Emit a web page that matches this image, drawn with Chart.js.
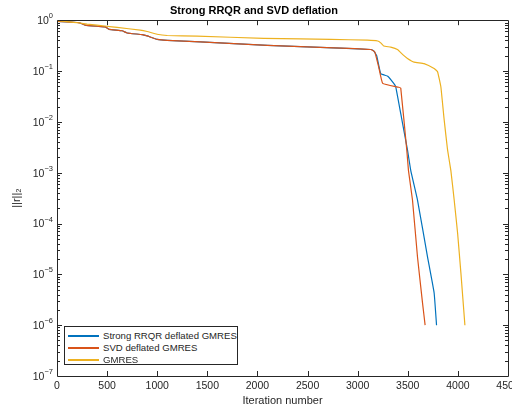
<!DOCTYPE html>
<html>
<head>
<meta charset="utf-8">
<script src="https://cdn.jsdelivr.net/npm/chart.js@4"></script>
<style>
  body { margin: 0; background: #fff; }
  #wrap { position: relative; width: 512px; height: 412px; }
  #legend {
    position: absolute; left: 64px; top: 326px; width: 172px; height: 37px;
    border: 1px solid #262626; background: #fff;
    font: 9.6px 'Liberation Sans', Arial, sans-serif; color: #262626;
  }
  #legend .row { position: absolute; left: 0; width: 100%; height: 12px; line-height: 12px; white-space: nowrap; }
  #legend .swatch { position: absolute; left: 3px; top: 5px; width: 31px; height: 1.5px; }
  #legend .label { position: absolute; left: 38px; top: 0; }
</style>
</head>
<body>
<div id="wrap">
  <canvas id="chart" width="512" height="412"></canvas>
  <div id="legend"></div>
</div>
<script>
'use strict';

var chartTitle = 'Strong RRQR and SVD deflation';
var xTitle = 'Iteration number';
var seriesNames = ['Strong RRQR deflated GMRES', 'SVD deflated GMRES', 'GMRES'];
var seriesColors = ['#0072BD', '#D95319', '#EDB120'];

var iterRRQR = [0, 200, 230, 280, 400, 480, 520, 650, 700, 850, 900, 1000, 1100, 1430, 2100, 2760, 3130,
  3160, 3190, 3230, 3300, 3360, 3380, 3430, 3497, 3530, 3597, 3697, 3763, 3787];
var resRRQR = [0.95, 0.9, 0.88, 0.8, 0.76, 0.74, 0.66, 0.62, 0.56, 0.52, 0.49, 0.42, 0.4, 0.375, 0.32, 0.286, 0.265,
  0.25, 0.2, 0.089, 0.079, 0.057, 0.049, 0.0145, 0.0028, 0.0011, 2.9e-4, 2.2e-5, 4.3e-6, 1e-6];

var iterSVD = [0, 200, 230, 280, 400, 480, 520, 650, 700, 850, 900, 1000, 1100, 1430, 2100, 2760, 3130,
  3170, 3210, 3250, 3410, 3430, 3490, 3507, 3547, 3597, 3647, 3673];
var resSVD = [0.95, 0.9, 0.88, 0.8, 0.76, 0.74, 0.66, 0.62, 0.56, 0.52, 0.49, 0.42, 0.4, 0.375, 0.32, 0.286, 0.265,
  0.24, 0.12, 0.057, 0.048, 0.046, 0.0028, 0.0011, 2.9e-4, 2.2e-5, 2.75e-6, 1e-6];

var iterGMRES = [0, 100, 230, 300, 497, 600, 830, 900, 997, 1100, 1397, 2063, 2430, 2730, 3097, 3200, 3230, 3260,
  3330, 3397, 3450, 3497, 3563, 3663, 3763, 3797, 3830, 3863, 3897, 3930, 3963, 3997, 4030, 4070];
var resGMRES = [0.97, 0.94, 0.88, 0.84, 0.76, 0.72, 0.64, 0.6, 0.53, 0.5, 0.485, 0.44, 0.43, 0.42, 0.405, 0.39, 0.358, 0.31,
  0.295, 0.265, 0.21, 0.177, 0.15, 0.14, 0.112, 0.097, 0.049, 0.011, 0.0028, 0.0011, 2.9e-4, 6.5e-5, 1.07e-5, 1e-6];

var xMin = 0, xMax = 4500, xStep = 500;
var yExponents = [-7, -6, -5, -4, -3, -2, -1, 0];

var axisColor = '#262626';
var fontFamily = "'Liberation Sans', Arial, sans-serif";

function toPoints(xs, ys) {
  var pts = [];
  for (var i = 0; i < xs.length; i++) {
    pts.push({ x: xs[i], y: ys[i] });
  }
  return pts;
}

var allX = [iterRRQR, iterSVD, iterGMRES];
var allY = [resRRQR, resSVD, resGMRES];
var datasets = [];
for (var s = 0; s < seriesNames.length; s++) {
  datasets.push({
    label: seriesNames[s],
    data: toPoints(allX[s], allY[s]),
    borderColor: seriesColors[s],
    backgroundColor: seriesColors[s],
    borderWidth: 1.2,
    pointRadius: 0,
    tension: 0.1,
    fill: false,
    order: seriesNames.length - s // later series drawn on top, like matlab
  });
}

// matlab-ish box, inward ticks and 10^n labels
var matlabAxes = {
  id: 'matlabAxes',
  afterDraw: function (chart) {
    var ctx = chart.ctx;
    var area = chart.chartArea;
    var xs = chart.scales.x;
    var ys = chart.scales.y;
    ctx.save();
    ctx.strokeStyle = axisColor;
    ctx.lineWidth = 1;
    ctx.beginPath();
    ctx.rect(Math.round(area.left) + 0.5, Math.round(area.top) + 0.5,
      Math.round(area.right - area.left), Math.round(area.bottom - area.top));
    ctx.stroke();

    ctx.beginPath();
    for (var v = xMin + xStep; v < xMax; v += xStep) {
      var px = Math.round(xs.getPixelForValue(v)) + 0.5;
      ctx.moveTo(px, area.bottom); ctx.lineTo(px, area.bottom - 5);
      ctx.moveTo(px, area.top); ctx.lineTo(px, area.top + 5);
    }
    for (var e = yExponents[0]; e < yExponents[yExponents.length - 1]; e++) {
      for (var m = 1; m <= 9; m++) {
        if (m === 1 && e === yExponents[0]) continue;
        var py = Math.round(ys.getPixelForValue(m * Math.pow(10, e))) + 0.5;
        var len = m === 1 ? 5 : 3;
        ctx.moveTo(area.left, py); ctx.lineTo(area.left + len, py);
        ctx.moveTo(area.right, py); ctx.lineTo(area.right - len, py);
      }
    }
    ctx.stroke();

    ctx.fillStyle = axisColor;
    ctx.textBaseline = 'middle';
    for (var k = 0; k < yExponents.length; k++) {
      var y = ys.getPixelForValue(Math.pow(10, yExponents[k]));
      var exp = String(yExponents[k]).replace('-', '\u2212');
      ctx.font = '10.5px ' + fontFamily;
      var baseW = ctx.measureText('10').width;
      ctx.font = '7.5px ' + fontFamily;
      var expW = ctx.measureText(exp).width;
      var right = area.left - 4;
      ctx.textAlign = 'left';
      ctx.fillText(exp, right - expW, y - 4);
      ctx.font = '10.5px ' + fontFamily;
      ctx.fillText('10', right - expW - baseW, y + 1);
    }
    ctx.restore();
  }
};

var ctx = document.getElementById('chart').getContext('2d');
new Chart(ctx, {
  type: 'line',
  data: { datasets: datasets },
  options: {
    responsive: false,
    animation: false,
    layout: { padding: { left: 0, right: 4, top: 0, bottom: 0 } },
    plugins: {
      legend: { display: false },
      tooltip: { enabled: false },
      title: {
        display: true,
        text: chartTitle,
        color: '#000',
        font: { family: fontFamily, size: 11, weight: 'bold' },
        padding: { top: 4, bottom: 3 }
      }
    },
    scales: {
      x: {
        type: 'linear',
        min: xMin,
        max: xMax,
        grid: { display: false, drawTicks: false },
        border: { display: false },
        ticks: {
          stepSize: xStep,
          maxRotation: 0,
          autoSkip: false,
          padding: 4,
          color: axisColor,
          font: { family: fontFamily, size: 10.5 },
          callback: function (value) { return String(value); }
        },
        title: {
          display: true,
          text: xTitle,
          color: axisColor,
          font: { family: fontFamily, size: 11 },
          padding: { top: 2, bottom: 4 }
        },
        afterFit: function (scale) {
          scale.height = 36;
          scale.paddingLeft = 0;
          scale.paddingRight = 0;
        }
      },
      y: {
        type: 'logarithmic',
        min: Math.pow(10, yExponents[0]),
        max: Math.pow(10, yExponents[yExponents.length - 1]),
        grid: { display: false, drawTicks: false },
        border: { display: false },
        ticks: { display: false },
        title: {
          display: true,
          text: '||r||\u2082',
          color: axisColor,
          font: { family: fontFamily, size: 11 },
          padding: { top: 10, bottom: 0 }
        },
        afterFit: function (scale) {
          scale.width = 57;
          scale.paddingTop = 0;
          scale.paddingBottom = 0;
        }
      }
    }
  },
  plugins: [matlabAxes]
});

var legend = document.getElementById('legend');
for (var i = 0; i < seriesNames.length; i++) {
  var row = document.createElement('div');
  row.className = 'row';
  row.style.top = (3 + i * 12) + 'px';
  var sw = document.createElement('span');
  sw.className = 'swatch';
  sw.style.background = seriesColors[i];
  var lb = document.createElement('span');
  lb.className = 'label';
  lb.textContent = seriesNames[i];
  row.appendChild(sw);
  row.appendChild(lb);
  legend.appendChild(row);
}
</script>
</body>
</html>
